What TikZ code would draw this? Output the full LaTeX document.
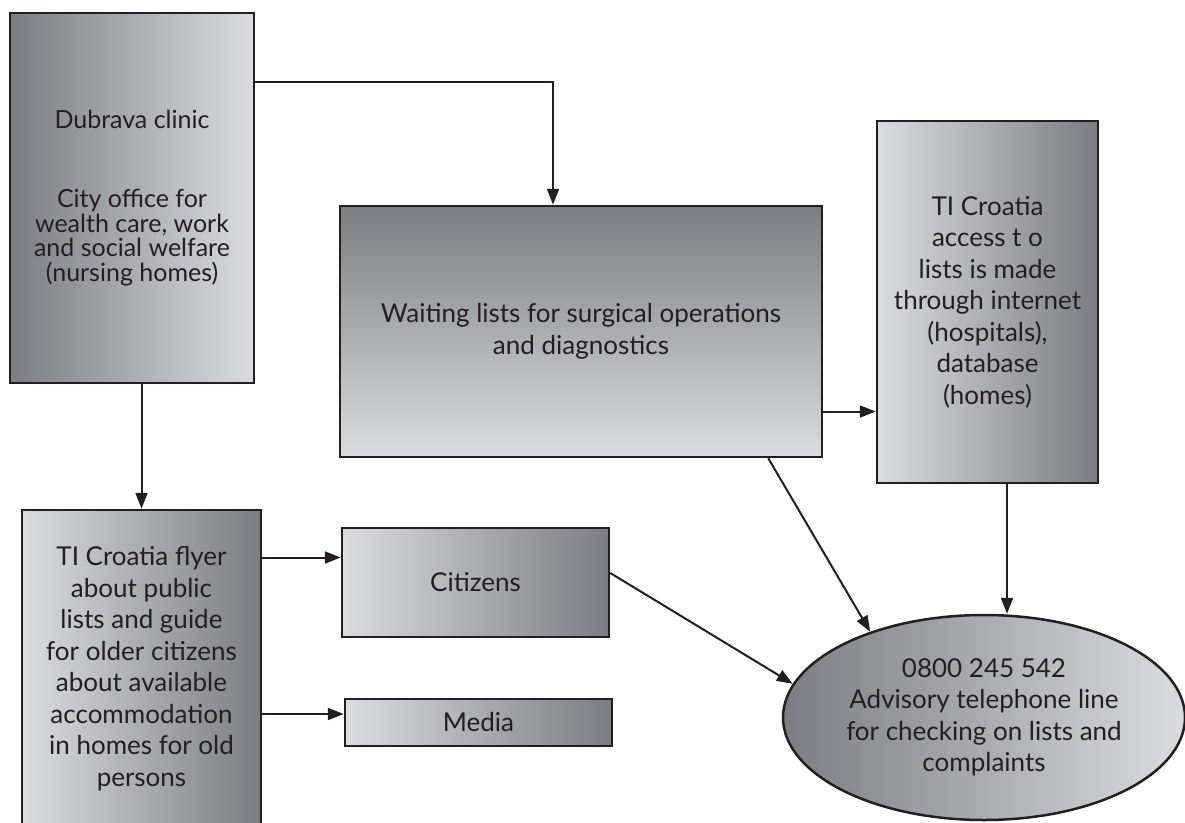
\documentclass[tikz,border=0pt]{standalone}
\usepackage{fontspec}
\setmainfont{Lato}
\usetikzlibrary{arrows.meta,shapes.geometric}
\definecolor{Ink}{RGB}{35, 31, 32}
\definecolor{Gray40}{RGB}{124, 125, 130}
\definecolor{Gray10}{RGB}{219, 220, 222}

\begin{document}
\begin{tikzpicture}[
        x=1pt, y=-1pt,
        font=\fontsize{26}{31.5}\selectfont,
        box/.style = {rectangle, draw=Ink, line width=2.5pt, text=Ink, align=center, inner sep=0pt},
        darkleft/.style = {left color=Gray40, right color=Gray10},
        lightleft/.style = {left color=Gray10, right color=Gray40},
        arr/.style = {draw=Ink, line width=2pt, -{Triangle[length=16pt, width=12pt]}}
    ]
    \useasboundingbox (0,0) rectangle (1185,822);

    \node (dubrava) at (132,198) [box, darkleft, minimum width=244pt, minimum height=370pt,
        font=\fontsize{25}{24.5}\selectfont]
        {Dubrava clinic\\[55pt]City office for\\wealth care, work\\and social welfare\\(nursing homes)};
    \node (waiting) at (581,331.5) [box, top color=Gray40, bottom color=Gray10,
        minimum width=482pt, minimum height=251pt]
        {Waiting lists for surgical operations\\and diagnostics};
    \node (access) at (987.5,302) [box, lightleft, minimum width=221pt, minimum height=362pt]
        {TI Croatia\\access t o\\lists is made\\through internet\\(hospitals),\\database\\(homes)};
    \node (flyer) at (141.5,668.5) [box, lightleft, minimum width=239pt, minimum height=317pt]
        {TI Croatia flyer\\about public\\lists and guide\\for older citizens\\about available\\accommodation\\in homes for old\\persons};
    \node (citizens) at (475.5,582.5) [box, lightleft, minimum width=267pt, minimum height=109pt] {Citizens};
    \node (media) at (478.5,722.5) [box, lightleft, minimum width=267pt, minimum height=47pt] {Media};
    \node (phone) at (984,717.5) [ellipse, draw=Ink, line width=2.5pt, text=Ink, darkleft,
        align=center, inner sep=0pt, minimum width=402pt, minimum height=205pt]
        {0800 245 542\\Advisory telephone line\\for checking on lists and\\complaints};

    \draw[arr] ([yshift=-70pt]dubrava.north east) -| ([xshift=-28pt]waiting.north);
    \draw[arr] (dubrava.south -| flyer.north) -- (flyer.north);
    \draw[arr] ([yshift=25pt]citizens.west -| flyer.east) -- ([yshift=25pt]citizens.west);
    \draw[arr] ([yshift=8.5pt]media.west -| flyer.east) -- ([yshift=8.5pt]media.west);
    \draw[arr] ([yshift=-80pt]waiting.east) -- ([yshift=-80pt]waiting.east -| access.west);
    \draw[arr] ([xshift=-55pt]waiting.south east) -- (phone.143);
    \draw[arr] ([yshift=9.5pt]citizens.east) -- (phone.170);
    \draw[arr] ([xshift=19.5pt]access.south) -- ([xshift=19.5pt]access.south |- phone.north);
\end{tikzpicture}
\end{document}
